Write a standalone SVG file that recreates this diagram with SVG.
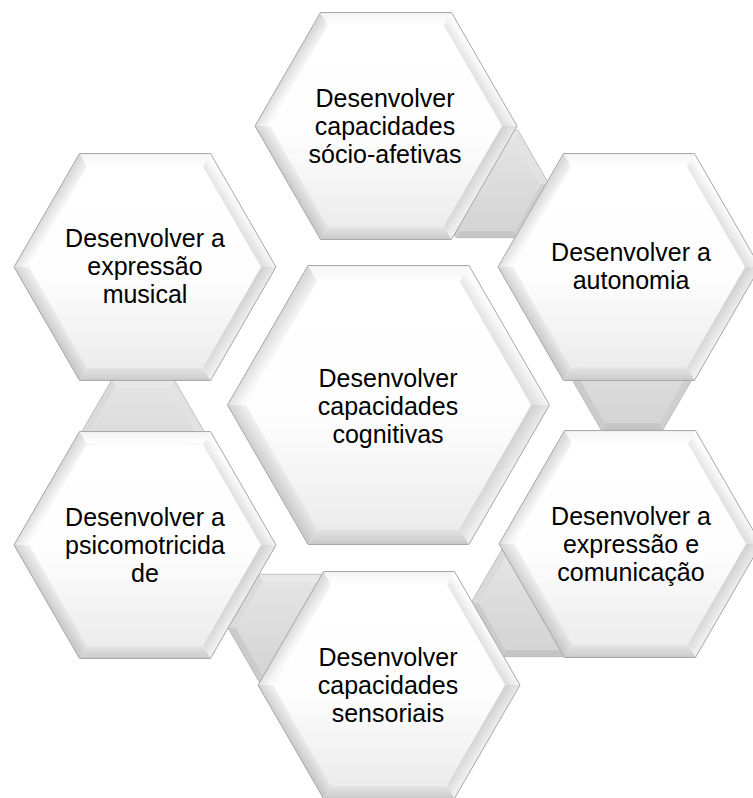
<svg xmlns="http://www.w3.org/2000/svg" xmlns:xlink="http://www.w3.org/1999/xlink" width="753" height="798" viewBox="0 0 753 798">
<style>
.lbl{font-family:"Liberation Sans",Arial,sans-serif;font-size:25px;fill:#000;text-anchor:middle}
.ol{fill:none;stroke:#a6a6a6;stroke-width:1;vector-effect:non-scaling-stroke}
.ols{fill:none;stroke:#b4b4b4;stroke-width:0.8}
</style>
<defs>
<linearGradient id="gFace" gradientUnits="userSpaceOnUse" x1="0" y1="-100" x2="0" y2="100">
<stop offset="0" stop-color="#ffffff"/><stop offset="0.55" stop-color="#fdfdfd"/><stop offset="1" stop-color="#ececec"/>
</linearGradient>
<linearGradient id="gTop" gradientUnits="userSpaceOnUse" x1="0" y1="-113" x2="0" y2="-100">
<stop offset="0" stop-color="#f4f4f4"/><stop offset="1" stop-color="#ffffff"/>
</linearGradient>
<linearGradient id="gUR" gradientUnits="userSpaceOnUse" x1="98" y1="-57" x2="87" y2="-50">
<stop offset="0" stop-color="#fdfdfd"/><stop offset="1" stop-color="#e0e0e0"/>
</linearGradient>
<linearGradient id="gLR" gradientUnits="userSpaceOnUse" x1="98" y1="57" x2="87" y2="50">
<stop offset="0" stop-color="#efefef"/><stop offset="1" stop-color="#d3d3d3"/>
</linearGradient>
<linearGradient id="gB" gradientUnits="userSpaceOnUse" x1="0" y1="113" x2="0" y2="100">
<stop offset="0" stop-color="#cbcbcb"/><stop offset="1" stop-color="#e6e6e6"/>
</linearGradient>
<linearGradient id="gLL" gradientUnits="userSpaceOnUse" x1="-98" y1="57" x2="-87" y2="50">
<stop offset="0" stop-color="#cbcbcb"/><stop offset="1" stop-color="#ececec"/>
</linearGradient>
<linearGradient id="gUL" gradientUnits="userSpaceOnUse" x1="-98" y1="-57" x2="-87" y2="-50">
<stop offset="0" stop-color="#dadada"/><stop offset="1" stop-color="#fafafa"/>
</linearGradient>
<linearGradient id="gSFace" gradientUnits="userSpaceOnUse" x1="0" y1="-47" x2="0" y2="47">
<stop offset="0" stop-color="#e4e4e4"/><stop offset="1" stop-color="#d4d4d4"/>
</linearGradient>
<g id="hexBig">
<polygon points="-58,-100.46 58,-100.46 116,0 58,100.46 -58,100.46 -116,0" fill="url(#gFace)"/>
<polygon points="-65.5,-113.45 65.5,-113.45 58,-100.46 -58,-100.46" fill="url(#gTop)"/>
<polygon points="65.5,-113.45 131,0 116,0 58,-100.46" fill="url(#gUR)"/>
<polygon points="131,0 65.5,113.45 58,100.46 116,0" fill="url(#gLR)"/>
<polygon points="65.5,113.45 -65.5,113.45 -58,100.46 58,100.46" fill="url(#gB)"/>
<polygon points="-65.5,113.45 -131,0 -116,0 -58,100.46" fill="url(#gLL)"/>
<polygon points="-131,0 -65.5,-113.45 -58,-100.46 -116,0" fill="url(#gUL)"/>
<polygon class="ol" points="131,0 65.5,113.45 -65.5,113.45 -131,0 -65.5,-113.45 65.5,-113.45"/>
</g>
<g id="hexSmall">
<polygon points="-26.95,-46.68 26.95,-46.68 53.9,0 26.95,46.68 -26.95,46.68 -53.9,0" fill="url(#gSFace)"/>
<polygon points="-31,-53.69 31,-53.69 26.95,-46.68 -26.95,-46.68" fill="#e8e8e8"/>
<polygon points="31,-53.69 62,0 53.9,0 26.95,-46.68" fill="#e2e2e2"/>
<polygon points="62,0 31,53.69 26.95,46.68 53.9,0" fill="#cfcfcf"/>
<polygon points="31,53.69 -31,53.69 -26.95,46.68 26.95,46.68" fill="#c5c5c5"/>
<polygon points="-31,53.69 -62,0 -53.9,0 -26.95,46.68" fill="#cbcbcb"/>
<polygon points="-62,0 -31,-53.69 -26.95,-46.68 -53.9,0" fill="#dadada"/>
<polygon class="ols" points="62,0 31,53.69 -31,53.69 -62,0 -31,-53.69 31,-53.69"/>
</g>
</defs>
<rect width="753" height="798" fill="#ffffff"/>
<g id="connectors">
<use xlink:href="#hexSmall" href="#hexSmall" transform="translate(487,184)"/>
<use xlink:href="#hexSmall" href="#hexSmall" transform="translate(632,376)"/>
<use xlink:href="#hexSmall" href="#hexSmall" transform="translate(533,603)"/>
<use xlink:href="#hexSmall" href="#hexSmall" transform="translate(290,628)"/>
<use xlink:href="#hexSmall" href="#hexSmall" transform="translate(143,433)"/>
</g>
<g id="node-socio">
<use xlink:href="#hexBig" href="#hexBig" transform="translate(386,126)"/>
<text class="lbl" y="107"><tspan x="385">Desenvolver</tspan><tspan x="385" dy="28">capacidades</tspan><tspan x="385" dy="28">sócio-afetivas</tspan></text>
</g>
<g id="node-musical">
<use xlink:href="#hexBig" href="#hexBig" transform="translate(145,267)"/>
<text class="lbl" y="247"><tspan x="145">Desenvolver a</tspan><tspan x="145" dy="28">expressão</tspan><tspan x="145" dy="28">musical</tspan></text>
</g>
<g id="node-autonomia">
<use xlink:href="#hexBig" href="#hexBig" transform="translate(629,267)"/>
<text class="lbl" y="261"><tspan x="631">Desenvolver a</tspan><tspan x="631" dy="28">autonomia</tspan></text>
</g>
<g id="node-psico">
<use xlink:href="#hexBig" href="#hexBig" transform="translate(145,545)"/>
<text class="lbl" y="526"><tspan x="145">Desenvolver a</tspan><tspan x="145" dy="28">psicomotricida</tspan><tspan x="145" dy="28">de</tspan></text>
</g>
<g id="node-comunicacao">
<use xlink:href="#hexBig" href="#hexBig" transform="translate(630,544)"/>
<text class="lbl" y="525"><tspan x="631">Desenvolver a</tspan><tspan x="631" dy="28">expressão e</tspan><tspan x="631" dy="28">comunicação</tspan></text>
</g>
<g id="node-sensoriais">
<use xlink:href="#hexBig" href="#hexBig" transform="translate(389,685)"/>
<text class="lbl" y="666"><tspan x="388">Desenvolver</tspan><tspan x="388" dy="28">capacidades</tspan><tspan x="388" dy="28">sensoriais</tspan></text>
</g>
<g id="node-cognitivas">
<use xlink:href="#hexBig" href="#hexBig" transform="translate(388.5,405) scale(1.229)"/>
<text class="lbl" y="387"><tspan x="388">Desenvolver</tspan><tspan x="388" dy="28">capacidades</tspan><tspan x="388" dy="28">cognitivas</tspan></text>
</g>
</svg>
